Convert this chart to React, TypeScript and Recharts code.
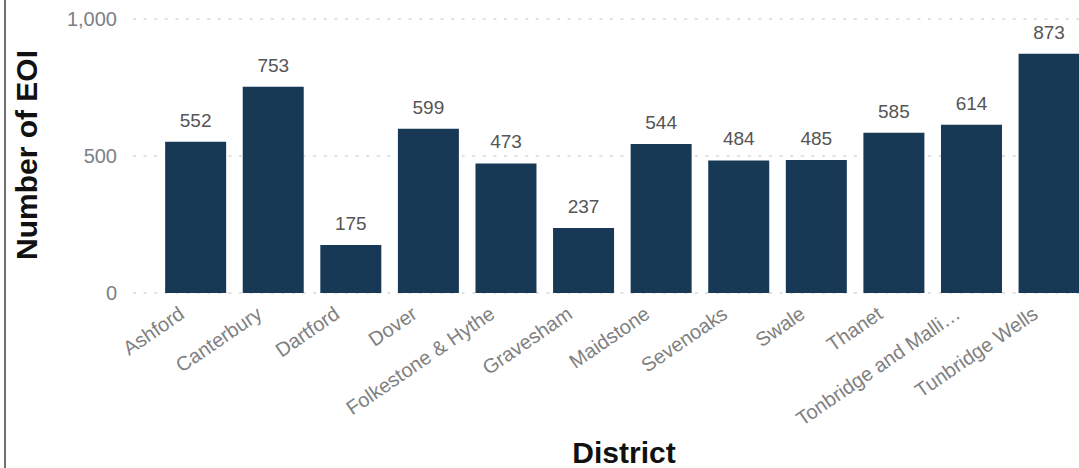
import React from 'react';
import { BarChart, Bar, XAxis, YAxis, CartesianGrid, LabelList, Label } from 'recharts';

const districts = [
  'Ashford',
  'Canterbury',
  'Dartford',
  'Dover',
  'Folkestone & Hythe',
  'Gravesham',
  'Maidstone',
  'Sevenoaks',
  'Swale',
  'Thanet',
  'Tonbridge and Malli…',
  'Tunbridge Wells',
];
const eoiCounts = [552, 753, 175, 599, 473, 237, 544, 484, 485, 585, 614, 873];
const yTicks = [0, 500, 1000];

const data = districts.map((district, i) => ({ district, eoi: eoiCounts[i] }));

const FONT = '"Liberation Sans", Arial, sans-serif';
const BAR_COLOR = '#173956';

const DistrictTick = (props: any) => {
  const { x, y, payload } = props;
  return (
    <g transform={`translate(${x - 10},${y + 16})`}>
      <text
        x={0}
        y={0}
        textAnchor="end"
        transform="rotate(-34.5)"
        fill="#808080"
        fontSize={20}
        fontFamily={FONT}
      >
        {payload.value}
      </text>
    </g>
  );
};

const YTitle = () => (
  <text
    x={37}
    y={155}
    transform="rotate(-90, 37, 155)"
    textAnchor="middle"
    fill="#111"
    fontSize={30}
    fontWeight="bold"
    fontFamily={FONT}
  >
    Number of EOI
  </text>
);

const XTitle = () => (
  <text
    x={624}
    y={463}
    textAnchor="middle"
    fill="#111"
    fontSize={30}
    fontWeight="bold"
    fontFamily={FONT}
  >
    District
  </text>
);

export default function App() {
  return (
    <div
      style={{
        position: 'absolute',
        left: 0,
        top: 0,
        width: 1079,
        height: 468,
        overflow: 'hidden',
        background: '#fff',
      }}
    >
      <div
        style={{ position: 'absolute', left: 4, top: 0, width: 2, height: 468, background: '#707070' }}
      />
      <BarChart
        width={1100}
        height={468}
        data={data}
        margin={{ top: 19, right: 12, bottom: 0, left: 0 }}
        barCategoryGap="10.5%"
      >
        <CartesianGrid
          vertical={false}
          stroke="#d8d8d8"
          strokeDasharray="3 7.6"
          strokeWidth={1.5}
        />
        <XAxis
          dataKey="district"
          height={175}
          axisLine={false}
          tickLine={false}
          interval={0}
          padding={{ left: 24, right: 0 }}
          tick={<DistrictTick />}
        >
          <Label content={<XTitle />} />
        </XAxis>
        <YAxis
          width={133}
          domain={[0, 1000]}
          ticks={yTicks}
          axisLine={false}
          tickLine={false}
          tickMargin={10}
          tickFormatter={(v: number) => v.toLocaleString('en-US')}
          tick={{ fill: '#7a7f88', fontSize: 20, fontFamily: FONT }}
        >
          <Label content={<YTitle />} />
        </YAxis>
        <Bar dataKey="eoi" fill={BAR_COLOR} isAnimationActive={false}>
          <LabelList
            dataKey="eoi"
            position="top"
            offset={15}
            fill="#555"
            fontSize={19}
            fontFamily={FONT}
          />
        </Bar>
      </BarChart>
    </div>
  );
}
